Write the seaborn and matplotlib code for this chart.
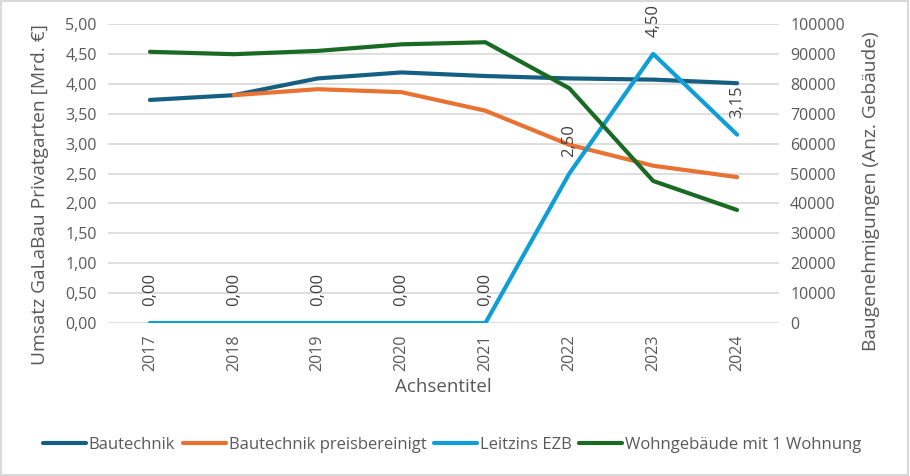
import numpy as np
import pandas as pd
import matplotlib
matplotlib.use("Agg")
import matplotlib.pyplot as plt
from matplotlib.ticker import FuncFormatter
import seaborn as sns

years = [2017, 2018, 2019, 2020, 2021, 2022, 2023, 2024]
bautechnik = [3.73, 3.81, 4.09, 4.19, 4.13, 4.09, 4.07, 4.01]
bautechnik_preis = [np.nan, 3.81, 3.91, 3.86, 3.55, 2.98, 2.63, 2.44]
leitzins = [0.00, 0.00, 0.00, 0.00, 0.00, 2.50, 4.50, 3.15]
wohngebaeude = [90700, 89900, 91000, 93200, 93900, 78500, 47500, 37800]

labels = ["Bautechnik", "Bautechnik preisbereinigt", "Leitzins EZB",
          "Wohngebäude mit 1 Wohnung"]
colors = ["#156082", "#E97132", "#0F9ED5", "#196B24"]

sns.set_theme(style="white")
plt.rcParams['font.family'] = ['Open Sans', 'DejaVu Sans']
TXT = "#595959"
GRID = "#D9D9D9"

df = pd.DataFrame({"year": years, labels[0]: bautechnik,
                   labels[1]: bautechnik_preis, labels[2]: leitzins,
                   labels[3]: wohngebaeude})

fig = plt.figure(figsize=(9.1, 4.76), dpi=100)
ax = fig.add_axes([108/910, 1-323/476, 671/910, 299/476])
ax2 = ax.twinx()

lw = 3.0
for i in range(3):
    sns.lineplot(data=df, x="year", y=labels[i], ax=ax, color=colors[i],
                 linewidth=lw, solid_capstyle='round', label=labels[i],
                 legend=False)
sns.lineplot(data=df, x="year", y=labels[3], ax=ax2, color=colors[3],
             linewidth=lw, solid_capstyle='round', label=labels[3],
             legend=False)

# data labels for Leitzins
for x, y in zip(years, leitzins):
    ax.annotate(f"{y:.2f}".replace(".", ","), (x, y), xytext=(0, 12),
                textcoords="offset points", rotation=90, ha="center",
                va="bottom", fontsize=12, color="#404040")

ax.set_xlim(2016.5, 2024.5)
ax.set_ylim(0, 5)
ax2.set_ylim(0, 100000)
ax.set_yticks(np.arange(0, 5.01, 0.5))
ax2.set_yticks(np.arange(0, 100001, 10000))
ax.set_xticks(years)
ax.set_xticklabels([str(y) for y in years], rotation=90)
ax.yaxis.set_major_formatter(FuncFormatter(lambda v, p: f"{v:.2f}".replace(".", ",")))

ax.grid(axis='y', color=GRID, linewidth=1.2)
ax.set_axisbelow(True)
ax2.grid(False)
for a in (ax, ax2):
    for s in a.spines.values():
        s.set_visible(False)
    a.tick_params(axis='both', length=0, labelsize=11.5, colors=TXT, pad=8)

ax.set_xlabel("Achsentitel", fontsize=13.5, color=TXT)
ax.set_ylabel("Umsatz GaLaBau Privatgarten [Mrd. €]", fontsize=13.8, color=TXT)
ax2.set_ylabel("Baugenehmigungen (Anz. Gebäude)", fontsize=13.8, color=TXT)
ax.xaxis.set_label_coords(0.5, (323-387)/299, transform=ax.transAxes)
ax.yaxis.set_label_coords((40-108)/671, (323-195)/299)
ax2.yaxis.set_label_coords((871-108)/671, (323-191)/299)
ax.xaxis.label.set_va("center")
ax.yaxis.label.set_va("center")
ax2.yaxis.label.set_va("center")

handles = ax.get_lines()[:3] + ax2.get_lines()[:1]
leg = fig.legend(handles, labels, loc="center", bbox_to_anchor=(452/910, 1-445/476),
                 ncol=4, frameon=False, fontsize=12, handlelength=2.6,
                 handletextpad=0.15, columnspacing=0.45)
for t in leg.get_texts():
    t.set_color(TXT)

fig.patches.append(plt.Rectangle((0.001, 0.002), 0.997, 0.995, transform=fig.transFigure,
                                 fill=False, edgecolor=GRID, linewidth=1.5))

fig.savefig("out.png", dpi=100)
